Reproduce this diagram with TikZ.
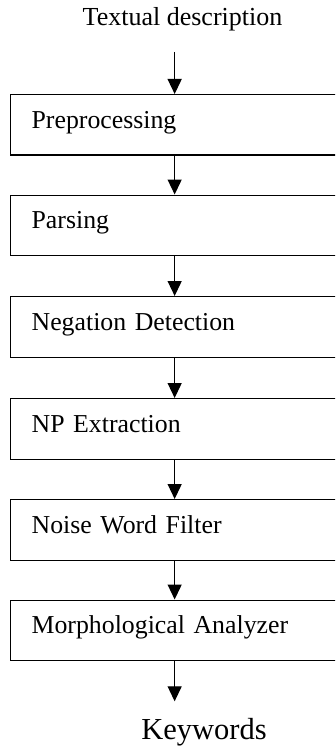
\documentclass[tikz,border=0pt]{standalone}
\usepackage{fontspec}
\setmainfont{Liberation Serif}
\usetikzlibrary{arrows.meta}
\tikzset{
  stagebox/.style={draw, line width=1.3pt, rectangle, anchor=north west,
    minimum width=328pt, minimum height=60.5pt, inner xsep=21pt, inner ysep=0pt,
    text width=286pt, align=left, text height=18.5pt, text depth=12pt,
    font=\fontsize{25.8pt}{30pt}\selectfont},
  flow/.style={line width=1.3pt, -{Triangle[width=14pt,length=15pt]}},
}
\begin{document}
\begin{tikzpicture}[x=1pt,y=1pt]
\path[use as bounding box, clip] (0,0) rectangle (335,-746);
\node[anchor=base, font=\fontsize{26pt}{30pt}\selectfont] (title) at (182.5,-26) {Textual description};
\node[stagebox] (b1) at (10,-94) {Preprocessing};
\node[stagebox] (b2) at (10,-194.5) {Parsing};
\node[stagebox] (b3) at (10,-296) {Negation Detection};
\node[stagebox] (b4) at (10,-398) {NP Extraction};
\node[stagebox] (b5) at (10,-499) {Noise Word Filter};
\node[stagebox] (b6) at (10,-599.5) {Morphological Analyzer};
\path (b1.north) ++(0,42) coordinate (start);
\path (b6.south) ++(0,-40) coordinate (finish);
\node[anchor=base, font=\fontsize{30.5pt}{34pt}\selectfont] (kw) at (204,-739) {Keywords};
\draw[flow] (start) -- (b1.north);
\draw[flow] (b1.south) -- (b2.north);
\draw[flow] (b2.south) -- (b3.north);
\draw[flow] (b3.south) -- (b4.north);
\draw[flow] (b4.south) -- (b5.north);
\draw[flow] (b5.south) -- (b6.north);
\draw[flow] (b6.south) -- (finish);
\end{tikzpicture}
\end{document}
